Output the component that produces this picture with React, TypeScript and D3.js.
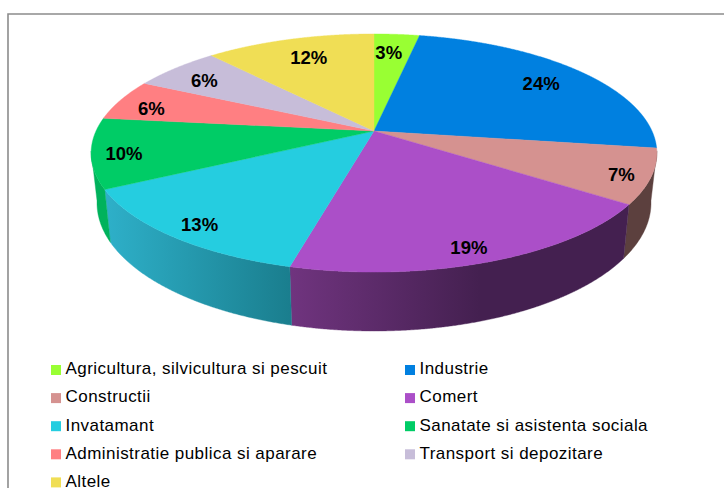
import React from "react";
import * as d3 from "d3";

const categories = ["Agricultura, silvicultura si pescuit","Industrie","Constructii","Comert","Invatamant","Sanatate si asistenta sociala","Administratie publica si aparare","Transport si depozitare","Altele"];
const shares = [3.1,24.2,7.4,19.3,13.3,9.5,5.6,6.0,11.6];
const labels = ["3%","24%","7%","19%","13%","10%","6%","6%","12%"];
const colors = ["#99ff33","#0080e0","#d59290","#ab4fc8","#25cde0","#00cc66","#ff7f82","#c7bdd9","#f0de55"];
const wallFrom = ["#7acc29","#00559a","#5c403e","#70347f","#2eb0c9","#00b25c","#cc6568","#9f97ad","#c0b244"];
const wallTo = ["#7acc29","#00559a","#5c403e","#442050","#1a7e8e","#00b25c","#cc6568","#9f97ad","#c0b244"];
const wallGradSpan: [number, number][] = [[0,1],[0,1],[0,1],[289,480],[105,290],[0,1],[0,1],[0,1],[0,1]];
const labelNudge: [number, number][] = [[-4,1],[-1,2],[20,6],[-1,9],[-9,7],[-18,4],[-15,3],[-7,1],[4,1]];

const W = 724, H = 488;
const apex = { x: 374, y: 131 };
const topE = { cx: 374, cy: 153, rx: 283, ry: 119 };
const botE = { cx: 374, cy: 203, rx: 277, ry: 128 };
const persp = 0.185, A = 278, B = 115;

function project(t: number): [number, number] {
  const u = Math.sin(t), v = -Math.cos(t), d = 1 - persp * v;
  return [apex.x + (A * u) / d, apex.y + (B * v) / d];
}
function ellipseAngle(p: [number, number]) {
  const a = Math.atan2((p[0] - topE.cx) / topE.rx, -(p[1] - topE.cy) / topE.ry);
  return a < 0 ? a + 2 * Math.PI : a;
}
const line = d3.line();
const arcs = d3.pie<number>().sort(null).value((d) => d)(shares);

function samples(a0: number, a1: number) {
  return d3.range(0, 1.0001, 1 / Math.max(2, Math.ceil((a1 - a0) / 0.004))).map((f) => a0 + (a1 - a0) * f);
}

export default function App() {
  const legendRows = d3.range(categories.length);
  return (
    <svg width={W} height={H} style={{ position: "absolute", left: 0, top: 0, background: "#fff" }}>
      <defs>
        {arcs.map((_, i) => (
          <linearGradient key={i} id={`w${i}`} gradientUnits="userSpaceOnUse" x1={wallGradSpan[i][0]} x2={wallGradSpan[i][1]} y1={0} y2={0}>
            <stop offset="0" stopColor={wallFrom[i]} />
            <stop offset="1" stopColor={wallTo[i]} />
          </linearGradient>
        ))}
      </defs>
      <path d={`M8 ${H}V14H${W}`} fill="none" stroke="#8c8c8c" strokeWidth={1.6} />
      {arcs.map((a, i) => {
        const pts = samples(a.startAngle, a.endAngle)
          .map((t) => project(t))
          .map((p) => ({ p, phi: ellipseAngle(p) }))
          .filter((o) => o.phi >= Math.PI / 2 - 0.02 && o.phi <= (3 * Math.PI) / 2 + 0.02);
        if (pts.length < 2) return null;
        const upper = pts.map((o) => o.p);
        const lower = pts.map((o): [number, number] => [botE.cx + botE.rx * Math.sin(o.phi), botE.cy - botE.ry * Math.cos(o.phi)]).reverse();
        return <path key={i} d={line([...upper, ...lower]) + "Z"} fill={`url(#w${i})`} stroke={`url(#w${i})`} strokeWidth={0.4} />;
      })}
      {arcs.map((a, i) => {
        const edge = samples(a.startAngle, a.endAngle).map((t) => project(t));
        return <path key={i} d={line([[apex.x, apex.y], ...edge]) + "Z"} fill={colors[i]} stroke={colors[i]} strokeWidth={0.4} />;
      })}
      {arcs.map((a, i) => {
        const e = project((a.startAngle + a.endAngle) / 2);
        const x = apex.x + 0.82 * (e[0] - apex.x) + labelNudge[i][0];
        const y = apex.y + 0.82 * (e[1] - apex.y) + labelNudge[i][1];
        return (
          <text key={i} x={x} y={y} dy="0.36em" textAnchor="middle" fontFamily="'Liberation Sans', Arial, sans-serif" fontWeight="bold" fontSize={18.5} fill="#000">
            {labels[i]}
          </text>
        );
      })}
      {legendRows.map((i) => {
        const col = i % 2, row = Math.floor(i / 2);
        const sx = col ? 405 : 51;
        const sy = 365 + row * 28.1;
        return (
          <g key={i}>
            <rect x={sx} y={sy} width={10} height={10} fill={colors[i]} />
            <text x={sx + 14.5} y={sy + 9.3} fontFamily="'Liberation Sans', Arial, sans-serif" fontSize={17} letterSpacing={0.45} fill="#000">
              {categories[i]}
            </text>
          </g>
        );
      })}
    </svg>
  );
}
